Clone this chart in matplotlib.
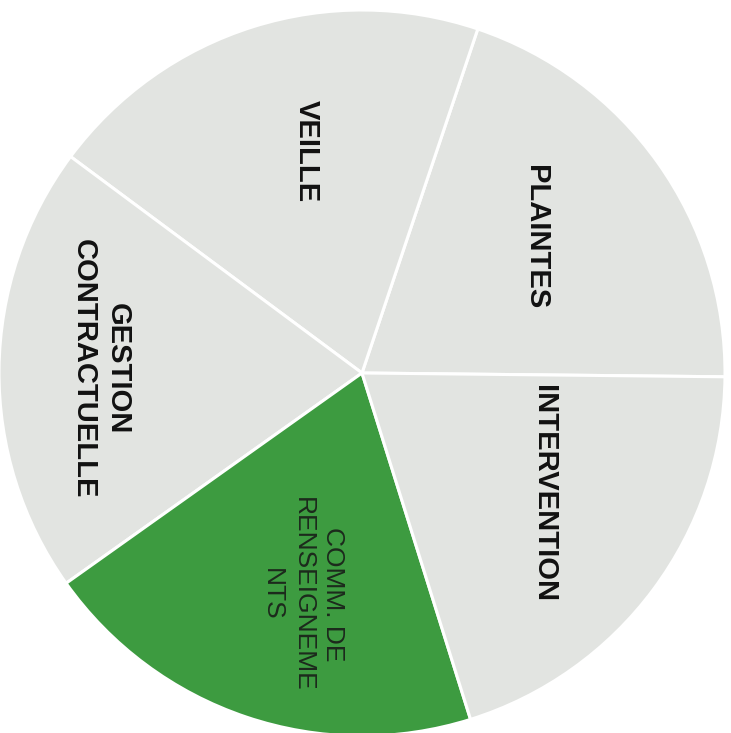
import numpy as np
import matplotlib.pyplot as plt

# data: five equal shares, counter-clockwise from 3 o'clock
categories = ["PLAINTES", "VEILLE", "GESTION\nCONTRACTUELLE",
              "COMM. DE\nRENSEIGNEME\nNTS", "INTERVENTION"]
shares = [20, 20, 20, 20, 20]

gray = "#e2e4e1"
green = "#3d9b40"
colors = [gray, gray, gray, green, gray]

# label placement (radius in pie units, angle in degrees)
label_pos = [(0.61, 38), (0.63, 104), (0.72, 179), (0.63, 255), (0.60, 326.5)]
label_style = [
    dict(fontweight="bold", fontsize=21, color="#111111"),
    dict(fontweight="bold", fontsize=21, color="#111111"),
    dict(fontweight="bold", fontsize=21, color="#111111", linespacing=1.25),
    dict(fontweight="normal", fontsize=19, color="#1c2a1c", linespacing=1.35),
    dict(fontweight="bold", fontsize=21, color="#111111"),
]

plt.rcParams['font.family'] = ['Liberation Sans', 'DejaVu Sans']

fig = plt.figure(figsize=(7.31, 7.33), dpi=100)
ax = fig.add_axes([0, 0, 1, 1])

ax.pie(shares, colors=colors, startangle=-0.6, counterclock=True,
       radius=1.0, wedgeprops=dict(edgecolor="white", linewidth=2.2))

for name, (r, ang), st in zip(categories, label_pos, label_style):
    a = np.deg2rad(ang)
    ax.text(r * np.cos(a), r * np.sin(a), name, rotation=-90,
            ha="center", va="center", multialignment="center", **st)

# pie center sits at (362, 373) px with radius ~363 px
ax.set_xlim(-362 / 363, (731 - 362) / 363)
ax.set_ylim(-(733 - 373) / 363, 373 / 363)
ax.set_aspect("auto")
ax.axis("off")

fig.savefig("out.png", dpi=100, facecolor="white")
